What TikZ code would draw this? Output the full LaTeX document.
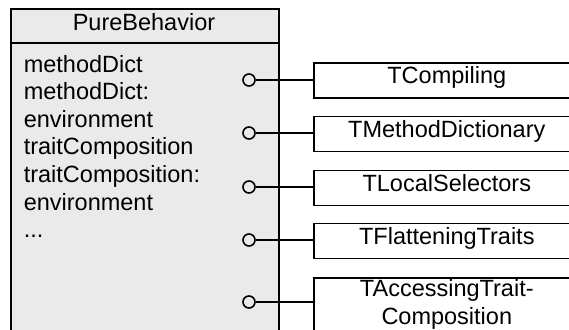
\documentclass[tikz,border=0pt]{standalone}
\usepackage{fontspec}
\setmainfont{Liberation Sans}
\definecolor{clsfill}{RGB}{234,234,234}
\begin{document}
\begin{tikzpicture}[x=1pt,y=-1pt, line width=1.6pt,
  txt/.style={font=\fontsize{23.5}{28}\selectfont, inner sep=0pt},
  port/.style={circle, draw, minimum size=12pt, inner sep=0pt},
  trait/.style={draw, anchor=north west, minimum width=266pt, minimum height=35pt,
    inner sep=0pt, text height=17pt, text depth=10pt, font=\fontsize{23.5}{28}\selectfont},
  traittall/.style={draw, anchor=north west, minimum width=266pt, minimum height=54pt,
    inner sep=0pt, align=center, font=\fontsize{23.5}{28}\selectfont},
  link/.style={draw}
]
\useasboundingbox (0,0) rectangle (569,329);
% class box
\node[draw, fill=clsfill, anchor=north west, minimum width=268pt, minimum height=345pt, inner sep=0pt] (cls) at (10,8) {};
\coordinate (hl) at (10,43);
\draw (cls.west |- hl) -- (cls.east |- hl);
\node[txt, anchor=base] (hdr) at (144,30.7) {PureBehavior};
% attributes
\node[txt, anchor=base west] (m1) at (23,72) {methodDict};
\node[txt, anchor=base west] (m2) at (23,99.6) {methodDict:};
\node[txt, anchor=base west] (m3) at (23,127.2) {environment};
\node[txt, anchor=base west] (m4) at (23,154.8) {traitComposition};
\node[txt, anchor=base west] (m5) at (23,182.4) {traitComposition:};
\node[txt, anchor=base west] (m6) at (23,210) {environment};
\node[txt, anchor=base west] (m7) at (23,237.6) {...};
% ports
\node[port] (c1) at (249,80) {};
\node[port] (c2) at (249,133) {};
\node[port] (c3) at (249,187) {};
\node[port] (c4) at (249,240) {};
\node[port] (c5) at (249,302) {};
% traits
\node[trait] (t1) at (313,62) {TCompiling};
\node[trait] (t2) at (313,115.5) {TMethodDictionary};
\node[trait] (t3) at (313,169.5) {TLocalSelectors};
\node[trait] (t4) at (313,222.5) {TFlatteningTraits};
\node[traittall] (t5) at (313,277) {TAccessingTrait-\\Composition};
% connectors
\foreach \i in {1,...,5} {
  \draw[link] (c\i.east) -- (c\i -| t\i.west);
}
\end{tikzpicture}
\end{document}
